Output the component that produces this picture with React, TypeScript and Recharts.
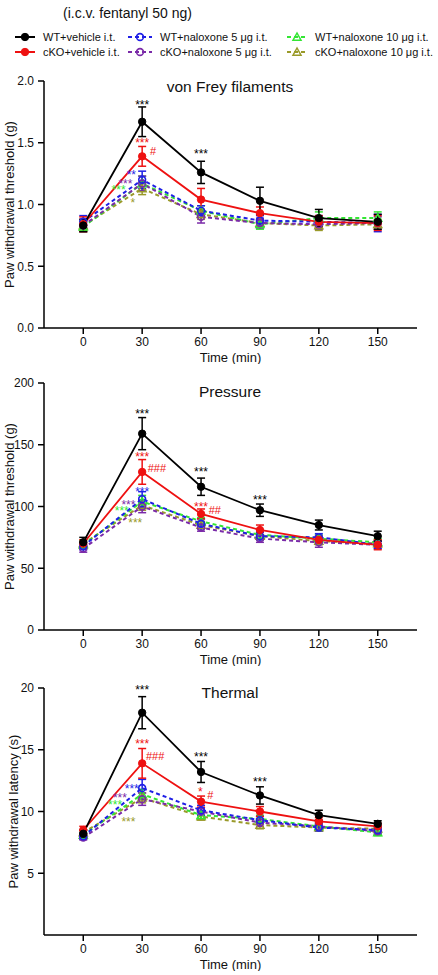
import React from 'react';
import { ComposedChart, Line, XAxis, YAxis, ErrorBar, ReferenceDot } from 'recharts';

// ---------- data ----------
const times = [0, 30, 60, 90, 120, 150];
const legendTitle = '(i.c.v. fentanyl 50 ng)';
const seriesKeys = ['wt', 'ko', 'wtN5', 'koN5', 'wtN10', 'koN10'];
const seriesNames = [
  'WT+vehicle i.t.',
  'cKO+vehicle i.t.',
  'WT+naloxone 5 μg i.t.',
  'cKO+naloxone 5 μg i.t.',
  'WT+naloxone 10 μg i.t.',
  'cKO+naloxone 10 μg i.t.',
];

// von Frey filaments (g)
const vfWt = [0.83, 1.67, 1.26, 1.03, 0.89, 0.86];
const vfWtErr = [0.05, 0.12, 0.09, 0.11, 0.07, 0.06];
const vfKo = [0.84, 1.39, 1.04, 0.93, 0.86, 0.85];
const vfKoErr = [0.06, 0.08, 0.09, 0.05, 0.05, 0.06];
const vfWtN5 = [0.86, 1.2, 0.95, 0.87, 0.86, 0.85];
const vfWtN5Err = [0.05, 0.07, 0.04, 0.04, 0.05, 0.07];
const vfKoN5 = [0.83, 1.17, 0.9, 0.85, 0.84, 0.85];
const vfKoN5Err = [0.05, 0.06, 0.05, 0.04, 0.04, 0.05];
const vfWtN10 = [0.82, 1.17, 0.95, 0.84, 0.89, 0.89];
const vfWtN10Err = [0.04, 0.06, 0.04, 0.04, 0.05, 0.05];
const vfKoN10 = [0.83, 1.13, 0.92, 0.85, 0.83, 0.84];
const vfKoN10Err = [0.04, 0.05, 0.04, 0.03, 0.04, 0.04];
const vfAnnots = [
  { t: 30, y: 1.83, text: '***', s: 0 },
  { t: 30, y: 1.52, text: '***', s: 1 },
  { t: 35.5, y: 1.43, text: '#', s: 1 },
  { t: 60, y: 1.43, text: '***', s: 0 },
  { t: 24.5, y: 1.26, text: '**', s: 2 },
  { t: 21.5, y: 1.19, text: '***', s: 3 },
  { t: 18, y: 1.14, text: '***', s: 4 },
  { t: 25.2, y: 1.04, text: '*', s: 5 },
];

// Pressure (g)
const prWt = [71, 159, 116, 97, 85, 76];
const prWtErr = [4, 13, 7, 5, 4, 4];
const prKo = [70, 128, 94, 81, 73, 69];
const prKoErr = [3, 10, 4, 4, 3, 4];
const prWtN5 = [68, 106, 86, 76, 75, 69];
const prWtN5Err = [3, 6, 4, 3, 3, 3];
const prKoN5 = [66, 100, 83, 74, 71, 69];
const prKoN5Err = [3, 5, 3, 3, 4, 3];
const prWtN10 = [69, 104, 88, 77, 74, 71];
const prWtN10Err = [3, 5, 3, 3, 3, 3];
const prKoN10 = [70, 101, 85, 76, 72, 70];
const prKoN10Err = [3, 4, 3, 3, 3, 3];
const prAnnots = [
  { t: 30, y: 177.5, text: '***', s: 0 },
  { t: 30, y: 142.5, text: '***', s: 1 },
  { t: 37.5, y: 131, text: '###', s: 1 },
  { t: 60, y: 130, text: '***', s: 0 },
  { t: 90, y: 108, text: '***', s: 0 },
  { t: 60, y: 102, text: '***', s: 1 },
  { t: 67, y: 97.5, text: '##', s: 1 },
  { t: 30, y: 114, text: '***', s: 2 },
  { t: 23, y: 104, text: '***', s: 3 },
  { t: 19.6, y: 99, text: '***', s: 4 },
  { t: 26.5, y: 89, text: '***', s: 5 },
];

// Thermal (s)
const thWt = [8.2, 18.0, 13.2, 11.3, 9.7, 9.0];
const thWtErr = [0.3, 1.3, 0.85, 0.7, 0.4, 0.25];
const thKo = [8.5, 13.9, 10.8, 10.0, 9.2, 8.8];
const thKoErr = [0.3, 1.2, 0.45, 0.4, 0.3, 0.25];
const thWtN5 = [8.0, 11.9, 10.1, 9.3, 8.7, 8.5];
const thWtN5Err = [0.25, 0.7, 0.4, 0.3, 0.3, 0.3];
const thKoN5 = [7.9, 11.0, 10.0, 9.1, 8.8, 8.4];
const thKoN5Err = [0.2, 0.5, 0.3, 0.3, 0.3, 0.25];
const thWtN10 = [8.1, 11.4, 9.7, 9.4, 8.8, 8.3];
const thWtN10Err = [0.2, 0.4, 0.3, 0.3, 0.3, 0.25];
const thKoN10 = [8.3, 11.1, 9.6, 8.9, 8.7, 8.6];
const thKoN10Err = [0.2, 0.4, 0.3, 0.3, 0.25, 0.25];
const thAnnots = [
  { t: 30, y: 20.05, text: '***', s: 0 },
  { t: 30, y: 15.7, text: '***', s: 1 },
  { t: 36.6, y: 14.5, text: '###', s: 1 },
  { t: 60, y: 14.65, text: '***', s: 0 },
  { t: 90, y: 12.6, text: '***', s: 0 },
  { t: 59.6, y: 11.8, text: '*', s: 1 },
  { t: 64.7, y: 11.35, text: '#', s: 1 },
  { t: 24.7, y: 12.1, text: '***', s: 2 },
  { t: 18.7, y: 11.35, text: '***', s: 3 },
  { t: 16.2, y: 10.75, text: '***', s: 4 },
  { t: 23, y: 9.4, text: '***', s: 5 },
];

const vfTicks = [0, 0.5, 1, 1.5, 2];
const prTicks = [0, 50, 100, 150, 200];
const thTicks = [5, 10, 15, 20];

// ---------- styles ----------
const FONT = '"Liberation Sans", Arial, sans-serif';
const STYLE = [
  { color: '#000000', dash: undefined, marker: 'filled' },
  { color: '#ee1111', dash: undefined, marker: 'filled' },
  { color: '#1f1fe6', dash: '4 3', marker: 'open' },
  { color: '#7a2aa8', dash: '4 3', marker: 'open' },
  { color: '#33e633', dash: '4 3', marker: 'tri' },
  { color: '#9a9a2a', dash: '4 3', marker: 'tri' },
];

function marker(kind: string, cx: number, cy: number, color: string, key?: any) {
  if (cx == null || cy == null || isNaN(cx) || isNaN(cy)) return <g key={key} />;
  if (kind === 'filled') return <circle key={key} cx={cx} cy={cy} r={3.7} fill={color} stroke={color} strokeWidth={1} />;
  if (kind === 'open') return <circle key={key} cx={cx} cy={cy} r={3.4} fill="none" stroke={color} strokeWidth={1.6} />;
  const s = 4;
  return (
    <polygon
      key={key}
      points={`${cx},${cy - s} ${cx - s},${cy + s * 0.8} ${cx + s},${cy + s * 0.8}`}
      fill="none"
      stroke={color}
      strokeWidth={1.5}
    />
  );
}

type PanelProps = {
  top: number;
  title: string;
  titleY: number;
  yLabel: string;
  yLabelOffset: number;
  domain: [number, number];
  ticks: number[];
  fmt: (v: number) => string;
  values: number[][];
  errors: number[][];
  annots: { t: number; y: number; text: string; s: number }[];
};

function Panel(p: PanelProps) {
  const data = times.map((t, i) => {
    const row: any = { t };
    seriesKeys.forEach((k, si) => {
      row[k] = p.values[si][i];
      row[k + 'E'] = p.errors[si][i];
    });
    return row;
  });
  const order = [5, 4, 3, 2, 1, 0];
  return (
    <div style={{ position: 'absolute', left: 0, top: p.top, width: 438, height: 304 }}>
      <ComposedChart width={438} height={304} data={data} margin={{ top: 21, right: 21, bottom: 0, left: 0 }}>
        <XAxis
          type="number"
          dataKey="t"
          domain={[-20, 170]}
          ticks={times}
          height={36}
          stroke="#000"
          strokeWidth={1.5}
          tickSize={6}
          tickMargin={3}
          tick={{ fill: '#111', fontSize: 12, fontFamily: FONT }}
          label={{ value: 'Time (min)', position: 'insideBottom', offset: 2, fill: '#111', fontSize: 13, fontFamily: FONT }}
        />
        <YAxis
          type="number"
          domain={p.domain}
          ticks={p.ticks}
          width={44}
          stroke="#000"
          strokeWidth={1.5}
          tickSize={6}
          tickMargin={4}
          tickFormatter={p.fmt}
          tick={{ fill: '#111', fontSize: 12, fontFamily: FONT }}
          label={{
            value: p.yLabel,
            angle: -90,
            position: 'insideLeft',
            offset: p.yLabelOffset,
            fill: '#111',
            fontSize: 13,
            fontFamily: FONT,
            style: { textAnchor: 'middle' },
          }}
        />
        {order.map((si) => {
          const st = STYLE[si];
          const k = seriesKeys[si];
          return (
            <Line
              key={k}
              type="linear"
              dataKey={k}
              name={seriesNames[si]}
              stroke={st.color}
              strokeWidth={si < 2 ? 1.8 : 2}
              strokeDasharray={st.dash}
              isAnimationActive={false}
              activeDot={false}
              dot={(dp: any) => marker(st.marker, dp.cx, dp.cy, st.color, `${k}-${dp.index}`)}
            >
              <ErrorBar dataKey={k + 'E'} direction="y" width={4} stroke={st.color} strokeWidth={1.5} />
            </Line>
          );
        })}
        {p.annots.map((a, i) => (
          <ReferenceDot
            key={i}
            x={a.t}
            y={a.y}
            r={0}
            ifOverflow="visible"
            shape={(sp: any) => {
              const isHash = a.text.includes('#');
              const fs = isHash ? 11 : 12;
              return (
                <text
                  x={sp.cx}
                  y={sp.cy + (isHash ? 0.36 : 0.58) * fs}
                  textAnchor="middle"
                  fontSize={fs}
                  fontFamily={FONT}
                  fill={STYLE[a.s].color}
                >
                  {a.text}
                </text>
              );
            }}
          />
        ))}
      </ComposedChart>
      <div
        style={{
          position: 'absolute',
          left: 130,
          width: 200,
          top: p.titleY - p.top - 9,
          height: 18,
          lineHeight: '18px',
          textAlign: 'center',
          fontFamily: FONT,
          fontSize: 15.5,
          color: '#111',
        }}
      >
        {p.title}
      </div>
    </div>
  );
}

function Legend() {
  const cols = [
    { x1: 15, x2: 35, mx: 25, tx: 43 },
    { x1: 128, x2: 152, mx: 140, tx: 160 },
    { x1: 287, x2: 308, mx: 297, tx: 315 },
  ];
  const rows = [37, 52];
  return (
    <svg width={438} height={62} style={{ position: 'absolute', left: 0, top: 0 }}>
      <text x={63} y={13} dominantBaseline="central" fontSize={14} fontFamily={FONT} fill="#111">
        {legendTitle}
      </text>
      {seriesNames.map((name, si) => {
        const c = cols[Math.floor(si / 2)];
        const y = rows[si % 2];
        const st = STYLE[si];
        return (
          <g key={si}>
            <line x1={c.x1} x2={c.x2} y1={y} y2={y} stroke={st.color} strokeWidth={2} strokeDasharray={st.dash} />
            {marker(st.marker, c.mx, y, st.color)}
            <text x={c.tx} y={y} dominantBaseline="central" fontSize={11} fontFamily={FONT} fill="#111">
              {name}
            </text>
          </g>
        );
      })}
    </svg>
  );
}

const fmt1 = (v: number) => v.toFixed(1);
const fmt0 = (v: number) => String(v);

export default function App() {
  return (
    <div style={{ position: 'absolute', left: 0, top: 0, width: 438, height: 975, background: '#fff', fontFamily: FONT }}>
      <Legend />
      <Panel
        top={60}
        title="von Frey filaments"
        titleY={87}
        yLabel="Paw withdrawal threshold (g)"
        yLabelOffset={9}
        domain={[0, 2]}
        ticks={vfTicks}
        fmt={fmt1}
        values={[vfWt, vfKo, vfWtN5, vfKoN5, vfWtN10, vfKoN10]}
        errors={[vfWtErr, vfKoErr, vfWtN5Err, vfKoN5Err, vfWtN10Err, vfKoN10Err]}
        annots={vfAnnots}
      />
      <Panel
        top={362}
        title="Pressure"
        titleY={392}
        yLabel="Paw withdrawal threshold (g)"
        yLabelOffset={9}
        domain={[0, 200]}
        ticks={prTicks}
        fmt={fmt0}
        values={[prWt, prKo, prWtN5, prKoN5, prWtN10, prKoN10]}
        errors={[prWtErr, prKoErr, prWtN5Err, prKoN5Err, prWtN10Err, prKoN10Err]}
        annots={prAnnots}
      />
      <Panel
        top={667}
        title="Thermal"
        titleY={693}
        yLabel="Paw withdrawal latency (s)"
        yLabelOffset={13}
        domain={[0, 20]}
        ticks={thTicks}
        fmt={fmt0}
        values={[thWt, thKo, thWtN5, thKoN5, thWtN10, thKoN10]}
        errors={[thWtErr, thKoErr, thWtN5Err, thKoN5Err, thWtN10Err, thKoN10Err]}
        annots={thAnnots}
      />
    </div>
  );
}
